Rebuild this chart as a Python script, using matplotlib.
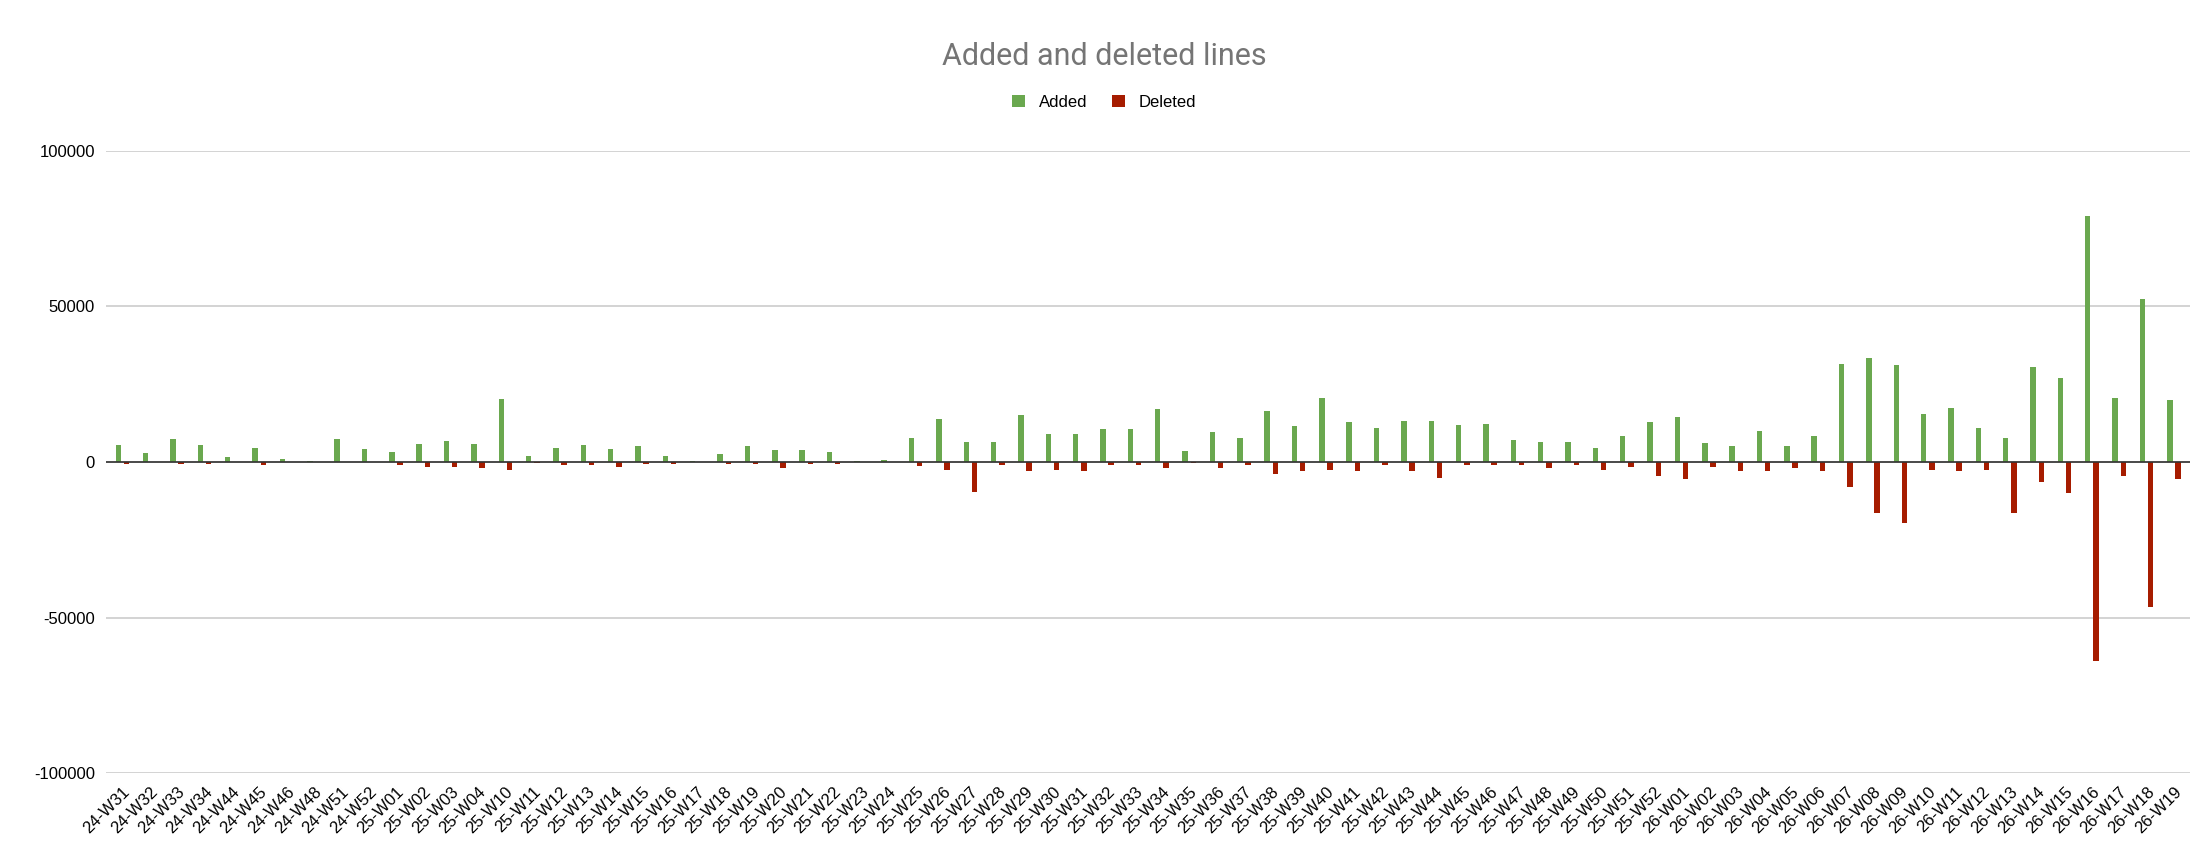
import numpy as np
import matplotlib.pyplot as plt

weeks = (
    ["24-W31", "24-W32", "24-W33", "24-W34", "24-W44", "24-W45", "24-W46",
     "24-W48", "24-W51", "24-W52"]
    + ["25-W%02d" % w for w in [1, 2, 3, 4] + list(range(10, 53))]
    + ["26-W%02d" % w for w in range(1, 20)]
)

added = [
    5500, 2800, 7300, 5500, 1500, 4500, 1000, 200, 7300, 4200,
    3300, 5800, 6800, 5800, 20300, 1800, 4500, 5500, 4200, 5000,
    2000, 300, 2700, 5000, 3800, 3800, 3300, 300, 600, 7800,
    13700, 6300, 6300, 15000, 9000, 9000, 10500, 10500, 17000, 3500,
    9500, 7800, 16500, 11500, 20700, 12800, 11000, 13300, 13300, 12000,
    12300, 7000, 6300, 6300, 4500, 8300, 12800,
    14300, 6000, 5000, 10000, 5000, 8200, 31500, 33500, 31000, 15500,
    17500, 11000, 7800, 30500, 27000, 79000, 20500, 52500, 20000,
]
deleted = [
    500, 0, 500, 500, 0, 1000, 0, 0, 0, 0,
    800, 1500, 1500, 1800, 2500, 300, 800, 1000, 1500, 500,
    500, 0, 500, 500, 2000, 500, 500, 0, 0, 1200,
    2500, 9500, 1000, 3000, 2500, 3000, 1000, 1000, 2000, 300,
    2000, 1000, 4000, 3000, 2500, 3000, 800, 3000, 5000, 1000,
    1000, 1000, 2000, 1000, 2500, 1500, 4500,
    5500, 1500, 2800, 2800, 2000, 2800, 8000, 16500, 19500, 2500,
    3000, 2500, 16500, 6500, 10000, 64000, 4500, 46500, 5500,
]

plt.rcParams['font.family'] = ['Liberation Sans', 'DejaVu Sans']
fig = plt.figure(figsize=(22.08, 8.66), dpi=100)
ax = fig.add_axes([0.048, 0.107, 0.944, 0.719])

x = np.arange(len(weeks))
ax.bar(x - 0.15, added, width=0.2, color='#6aa84f', label='Added', zorder=3)
ax.bar(x + 0.15, -np.array(deleted), width=0.2, color='#a61c00',
       label='Deleted', zorder=3)

ax.set_ylim(-100000, 100000)
ax.set_xlim(-0.6, len(weeks) - 0.4)
ax.set_yticks([-100000, -50000, 0, 50000, 100000])
ax.set_yticklabels(['-100000', '-50000', '0', '50000', '100000'], fontsize=12)
ax.grid(axis='y', color='#cccccc', linewidth=1.2, zorder=0)
ax.axhline(0, color='#333333', linewidth=1.2, zorder=4)
ax.set_xticks(x)
ax.set_xticklabels(weeks, rotation=45, ha='right', rotation_mode='anchor',
                   fontsize=12)
ax.tick_params(length=0, pad=8)
for s in ax.spines.values():
    s.set_visible(False)

fig.text(0.5, 0.935, 'Added and deleted lines', ha='center', va='center',
         fontsize=22, color='#757575', family=['Roboto', 'DejaVu Sans'])
fig.legend(loc='center', bbox_to_anchor=(0.5, 0.882), ncol=2, frameon=False,
           fontsize=12, handlelength=0.8, handleheight=0.8, columnspacing=1.5)

fig.savefig('out.png', dpi=100)
